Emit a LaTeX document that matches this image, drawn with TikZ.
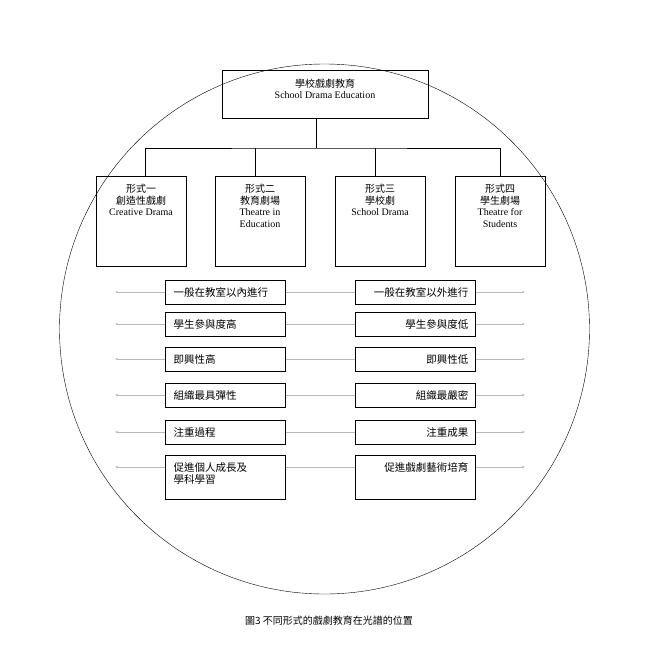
\documentclass[tikz,border=0pt]{standalone}
\usepackage{fontspec}
\setmainfont{Liberation Serif}
\newfontfamily\cjk{Noto Sans CJK TC}
\usetikzlibrary{arrows.meta}
\begin{document}
\begin{tikzpicture}[x=1pt,y=-1pt,
  box/.style={draw,thick,inner sep=0pt,anchor=north west},
  lbl/.style={font=\fontsize{10}{11.5}\selectfont,align=center,anchor=north},
  row/.style={font=\cjk\fontsize{10.5}{12}\selectfont},
  gl/.style={draw=gray!55,line width=0.6pt},
  ga/.style={gl,-{Stealth[length=3pt,width=2.5pt]}}]
\useasboundingbox (0,0) rectangle (659,667);
\node[draw,circle,minimum size=530,inner sep=0pt] (circ) at (324.5,329) {};
\node[box,minimum width=206,minimum height=48] (top) at (222,70) {};
\node[lbl] (toptxt) at (325,75) {{\cjk 學校戲劇教育}\\School Drama Education};
\foreach \i/\x/\t in {1/96/{{\cjk 形式一}\\{\cjk 創造性戲劇}\\Creative Drama},
                     2/215/{{\cjk 形式二}\\{\cjk 教育劇場}\\Theatre in\\Education},
                     3/335/{{\cjk 形式三}\\{\cjk 學校劇}\\School Drama},
                     4/455/{{\cjk 形式四}\\{\cjk 學生劇場}\\Theatre for\\Students}}{
  \node[box,minimum width=90,minimum height=90] (f\i) at (\x,176) {};
  \node[lbl] (ft\i) at (\x+45,181) {\t};
}
\coordinate (j) at (316,148);
\draw[thick] (top.south -| j) -- (j);
\draw[thick] (f1.north -| 145,0) |- (j) -| (f4.north -| 500,0);
\draw[thick] (f2.north -| 255,0) -- (255,148);
\draw[thick] (f3.north -| 375,0) -- (375,148);
\foreach \i/\y/\h/\L/\R in {1/280/24/一般在教室以內進行/一般在教室以外進行,
    2/312/24/學生參與度高/學生參與度低,
    3/347/24/即興性高/即興性低,
    4/383/24/組織最具彈性/組織最嚴密,
    5/420/24/注重過程/注重成果,
    6/455/44/{促進個人成長及\\學科學習}/促進戲劇藝術培育}{
  \node[box,minimum width=120,minimum height=\h] (l\i) at (165,\y) {};
  \node[box,minimum width=120,minimum height=\h] (r\i) at (355,\y) {};
  \node[row,anchor=north west,align=left] (lt\i) at (170,\y+4) {\L};
  \node[row,anchor=north east,align=right] (rt\i) at (472,\y+4) {\R};
  \coordinate (la\i) at (115,\y+12);
  \coordinate (ra\i) at (525,\y+12);
  \draw[ga] (l\i.west |- la\i) -- (la\i);
  \draw[ga] (r\i.east |- ra\i) -- (ra\i);
  \draw[gl] (l\i.east |- la\i) -- (r\i.west |- la\i);
}
\node[font=\cjk\fontsize{10}{12}\selectfont] (cap) at (329,621) {圖3 不同形式的戲劇教育在光譜的位置};
\end{tikzpicture}
\end{document}
